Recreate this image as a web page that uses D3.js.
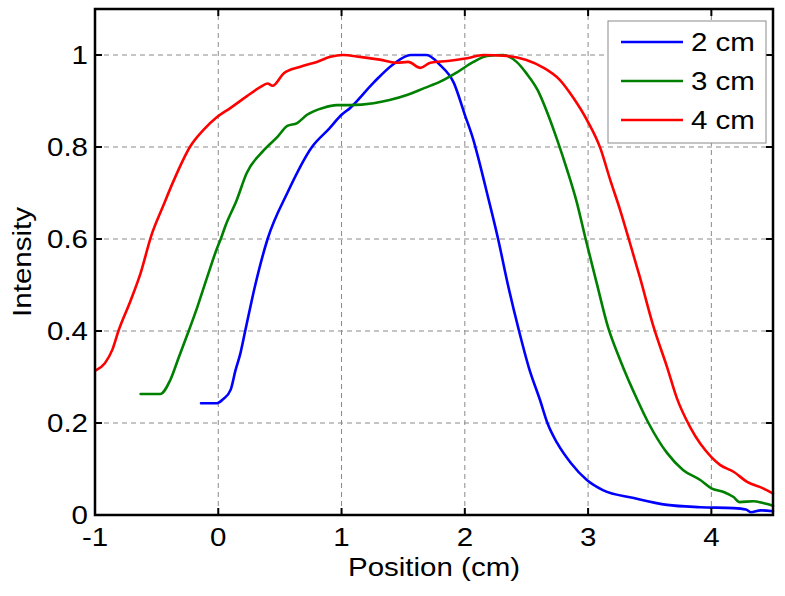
<!DOCTYPE html>
<html>
<head>
<meta charset="utf-8">
<script src="https://cdn.jsdelivr.net/npm/d3@7"></script>
<style>
  html, body { margin: 0; padding: 0; background: #fff; }
  svg { display: block; }
  text { font-family: "Liberation Sans", Arial, sans-serif; fill: #000; }
</style>
</head>
<body>
<svg id="chart" width="785" height="596"></svg>
<script>
// ---- data ----
const seriesNames = ["2 cm", "3 cm", "4 cm"];
const seriesColors = ["#0000ff", "#008000", "#ff0000"];

const blueX = [-0.14, -0.01, 0.04, 0.10, 0.14, 0.18, 0.22, 0.30, 0.40, 0.56, 0.76, 0.90, 1.0, 1.07, 1.26, 1.42, 1.56, 1.69, 1.80, 1.91, 2.0, 2.07, 2.12, 2.18, 2.27, 2.35, 2.44, 2.52, 2.61, 2.67, 2.75, 2.86, 2.99, 3.12, 3.37, 3.64, 3.91, 4.18, 4.28, 4.32, 4.40, 4.5];
const blueY = [0.243, 0.243, 0.252, 0.272, 0.315, 0.352, 0.402, 0.50, 0.60, 0.70, 0.80, 0.84, 0.87, 0.885, 0.94, 0.98, 1.0, 1.0, 0.978, 0.94, 0.87, 0.815, 0.765, 0.70, 0.60, 0.50, 0.40, 0.32, 0.25, 0.20, 0.156, 0.113, 0.076, 0.054, 0.037, 0.022, 0.017, 0.015, 0.012, 0.006, 0.01, 0.008];

const greenX = [-0.63, -0.47, -0.39, -0.32, -0.24, -0.17, -0.09, -0.01, 0.02, 0.06, 0.15, 0.23, 0.37, 0.48, 0.56, 0.64, 0.72, 0.85, 0.96, 1.07, 1.26, 1.39, 1.53, 1.67, 1.80, 1.94, 2.07, 2.18, 2.31, 2.42, 2.50, 2.59, 2.67, 2.75, 2.83, 2.91, 2.98, 3.07, 3.16, 3.26, 3.40, 3.49, 3.64, 3.77, 3.91, 4.0, 4.10, 4.18, 4.23, 4.34, 4.42, 4.5];
const greenY = [0.263, 0.263, 0.293, 0.343, 0.40, 0.452, 0.517, 0.58, 0.60, 0.63, 0.685, 0.743, 0.793, 0.822, 0.846, 0.852, 0.87, 0.885, 0.891, 0.891, 0.895, 0.902, 0.913, 0.928, 0.942, 0.963, 0.985, 0.998, 1.0, 0.985, 0.96, 0.924, 0.874, 0.815, 0.75, 0.678, 0.60, 0.504, 0.41, 0.337, 0.25, 0.20, 0.135, 0.098, 0.076, 0.058, 0.05, 0.039, 0.028, 0.03, 0.026, 0.02];

const redX = [-0.99, -0.92, -0.86, -0.81, -0.71, -0.63, -0.54, -0.45, -0.36, -0.23, -0.12, -0.01, 0.10, 0.23, 0.34, 0.40, 0.44, 0.53, 0.66, 0.80, 0.91, 1.01, 1.15, 1.31, 1.45, 1.54, 1.64, 1.72, 1.86, 2.02, 2.15, 2.34, 2.50, 2.64, 2.77, 2.88, 2.99, 3.10, 3.18, 3.26, 3.33, 3.42, 3.53, 3.64, 3.72, 3.83, 4.0, 4.07, 4.18, 4.29, 4.42, 4.5];
const redY = [0.315, 0.33, 0.359, 0.40, 0.467, 0.526, 0.61, 0.67, 0.728, 0.80, 0.837, 0.865, 0.885, 0.91, 0.93, 0.938, 0.933, 0.96, 0.974, 0.985, 0.996, 1.0, 0.996, 0.99, 0.983, 0.985, 0.972, 0.983, 0.987, 0.993, 1.0, 0.998, 0.989, 0.972, 0.946, 0.907, 0.859, 0.797, 0.728, 0.663, 0.60, 0.517, 0.41, 0.322, 0.254, 0.19, 0.126, 0.109, 0.094, 0.072, 0.058, 0.047];

const xTicks = [-1, 0, 1, 2, 3, 4];
const yTicks = [0, 0.2, 0.4, 0.6, 0.8, 1];
const xTickLabels = ["-1", "0", "1", "2", "3", "4"];
const yTickLabels = ["0", "0.2", "0.4", "0.6", "0.8", "1"];
const xLabel = "Position (cm)";
const yLabel = "Intensity";

// ---- layout ----
const svg = d3.select("#chart");
const L = 95, R = 773, T = 9, B = 515;
const x = d3.scaleLinear().domain([-1, 4.5]).range([L, R]);
const y = d3.scaleLinear().domain([0, 1.1]).range([B, T]);
const SX = 1.18; // horizontal stretch of glyphs
const FS = 25;

// grid
const grid = svg.append("g").attr("stroke", "#8a8a8a").attr("stroke-width", 1).attr("stroke-dasharray", "5,4");
xTicks.filter(v => v > -1).forEach(v => {
  grid.append("line").attr("x1", x(v)).attr("x2", x(v)).attr("y1", B).attr("y2", T);
});
yTicks.filter(v => v > 0).forEach(v => {
  grid.append("line").attr("x1", L).attr("x2", R).attr("y1", y(v)).attr("y2", y(v));
});

// series
const series = [
  { xs: blueX, ys: blueY },
  { xs: greenX, ys: greenY },
  { xs: redX, ys: redY }
];
const line = d3.line().x(d => x(d[0])).y(d => y(d[1])).curve(d3.curveMonotoneX);
series.forEach((s, i) => {
  const pts = s.xs.map((v, j) => [v, s.ys[j]]);
  svg.append("path").datum(pts).attr("d", line)
    .attr("fill", "none").attr("stroke", seriesColors[i])
    .attr("stroke-width", 2.6).attr("stroke-linejoin", "round").attr("stroke-linecap", "round");
});

// axes with inward ticks on all sides
const TL = 7;
const ax = svg.append("g").attr("stroke", "#000").attr("stroke-width", 2);
xTicks.forEach(v => {
  ax.append("line").attr("x1", x(v)).attr("x2", x(v)).attr("y1", B).attr("y2", B - TL);
  ax.append("line").attr("x1", x(v)).attr("x2", x(v)).attr("y1", T).attr("y2", T + TL);
});
yTicks.forEach(v => {
  ax.append("line").attr("x1", L).attr("x2", L + TL).attr("y1", y(v)).attr("y2", y(v));
  ax.append("line").attr("x1", R).attr("x2", R - TL).attr("y1", y(v)).attr("y2", y(v));
});
svg.append("rect").attr("x", L).attr("y", T).attr("width", R - L).attr("height", B - T)
  .attr("fill", "none").attr("stroke", "#000").attr("stroke-width", 2.5);

// tick labels
xTicks.forEach((v, i) => {
  svg.append("text")
    .attr("transform", `translate(${x(v)},${546}) scale(${SX},1)`)
    .attr("text-anchor", "middle").attr("font-size", FS)
    .text(xTickLabels[i]);
});
yTicks.forEach((v, i) => {
  svg.append("text")
    .attr("transform", `translate(${88},${y(v) + 9}) scale(${SX},1)`)
    .attr("text-anchor", "end").attr("font-size", FS)
    .text(yTickLabels[i]);
});

// axis labels
svg.append("text")
  .attr("transform", `translate(${(L + R) / 2},${576}) scale(${SX},1)`)
  .attr("text-anchor", "middle").attr("font-size", FS)
  .text(xLabel);
svg.append("text")
  .attr("transform", `translate(${31},${(T + B) / 2}) rotate(-90) scale(${SX},1)`)
  .attr("text-anchor", "middle").attr("font-size", FS)
  .text(yLabel);

// legend
const lg = svg.append("g");
lg.append("rect").attr("x", 608).attr("y", 21).attr("width", 158).attr("height", 122)
  .attr("fill", "#fff").attr("stroke", "#8a8a8a").attr("stroke-width", 1);
const rowY = [42, 81, 120];
seriesNames.forEach((n, i) => {
  lg.append("line").attr("x1", 621).attr("x2", 683).attr("y1", rowY[i]).attr("y2", rowY[i])
    .attr("stroke", seriesColors[i]).attr("stroke-width", 2.6);
  lg.append("text")
    .attr("transform", `translate(${691},${rowY[i] + 9}) scale(${SX},1)`)
    .attr("font-size", FS).text(n);
});
</script>
</body>
</html>
